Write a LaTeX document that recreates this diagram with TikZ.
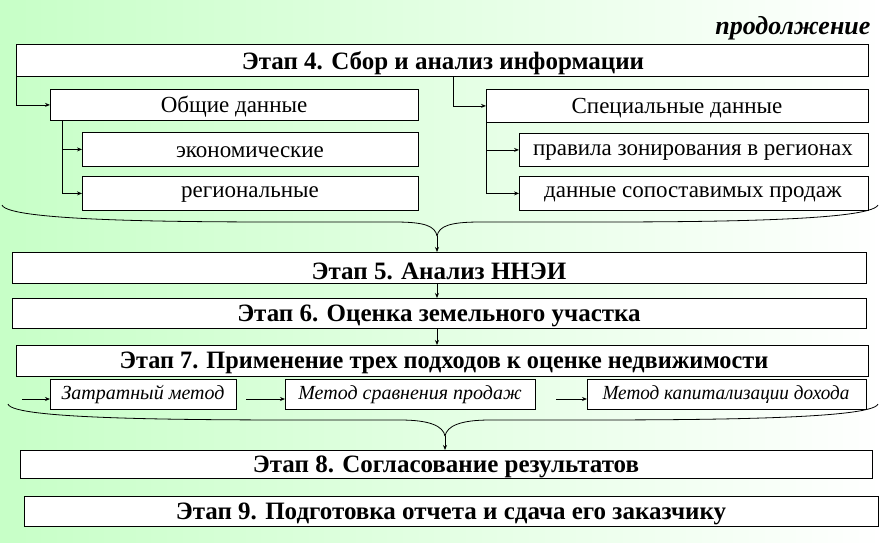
\documentclass[tikz,border=0pt]{standalone}
\usepackage{fontspec}
\setmainfont{Liberation Serif}
\usetikzlibrary{arrows.meta}
\begin{document}
\begin{tikzpicture}[x=1pt,y=-1pt,
 box/.style={draw,thick,fill=white,inner sep=0pt},
 big/.style={font=\bfseries\fontsize{25}{28}\selectfont,yshift=-2pt},
 reg/.style={font=\fontsize{23}{26}\selectfont,yshift=-2pt},
 met/.style={font=\itshape\fontsize{20}{22}\selectfont,yshift=-1pt},
 arr/.style={thick,-{Stealth[length=5pt,width=4pt]}},
 ln/.style={thick}]
\shade[left color=green!22!white,right color=white] (0,0) rectangle (882,542);
\useasboundingbox (0,0) rectangle (882,542);
\newcommand{\bx}[6]{\node[box,#6,minimum width=#3-#1,minimum height=#4-#2,anchor=north west] (#5) at (#1,#2) {};}
\node[font=\bfseries\itshape\fontsize{26}{28}\selectfont,anchor=east] (cont) at (874,28) {продолжение};
\bx{16}{44}{868}{76}{s4}{}
\node[big] at (443,61) {Этап 4. Сбор и анализ информации};
\bx{50}{89}{418}{120}{gen}{}
\node[reg] at (234,105) {Общие данные};
\bx{486}{89}{868}{122}{spec}{}
\node[reg] at (677,106) {Специальные данные};
\bx{82}{132}{418}{166}{eco}{}
\node[reg] at (250,150) {экономические};
\bx{519}{133}{868}{166}{zon}{}
\node[reg] at (693,151) {правила зонирования в регионах};
\bx{82}{176}{418}{210}{reg}{}
\node[reg] at (250,193) {региональные};
\bx{519}{176}{868}{210}{sales}{}
\node[reg] at (693,193) {данные сопоставимых продаж};
\draw[arr] (16,76) |- (gen.west);
\draw[arr] (453,76) |- (spec.west);
\draw[arr] (62,120) |- (eco.west);
\draw[arr] (62,120) |- (reg.west);
\draw[arr] (486,122) |- (zon.west);
\draw[arr] (486,122) |- (sales.west);
\bx{12}{252}{866}{283}{s5}{}
\node[big] at (439,269) {Этап 5. Анализ ННЭИ};
\coordinate (b1) at (437,236);
\draw[ln] (2,205) .. controls (8,222) and (200,222) .. (300,222) -- (395,222) .. controls (425,222) and (435,226) .. (b1);
\draw[ln] (878,205) .. controls (870,222) and (680,222) .. (580,222) -- (480,222) .. controls (450,222) and (439,226) .. (b1);
\draw[arr] (b1) -- (s5.north -| b1);
\bx{12}{298}{866}{328}{s6}{}
\node[big] at (439,314) {Этап 6. Оценка земельного участка};
\draw[arr] (s5.south -| b1) -- (s6.north -| b1);
\bx{16}{345}{868}{376}{s7}{}
\node[big,xscale=0.97] at (444,361) {Этап 7. Применение трех подходов к оценке недвижимости};
\draw[arr] (s6.south -| b1) -- (s7.north -| b1);
\bx{50}{379}{236}{409}{m1}{}
\node[met] at (143,394) {Затратный метод};
\bx{285}{379}{535}{409}{m2}{}
\node[met] at (410,394) {Метод сравнения продаж};
\bx{587}{379}{866}{409}{m3}{}
\node[met,xscale=0.96] at (726,394) {Метод капитализации дохода};
\coordinate (a1) at (22,399);\coordinate (a2) at (246,399);\coordinate (a3) at (556,399);
\draw[arr] (a1) -- (m1.west|-a1);
\draw[arr] (a2) -- (m2.west|-a2);
\draw[arr] (a3) -- (m3.west|-a3);
\coordinate (b2) at (445,436);
\bx{20}{450}{872}{478}{s8}{}
\node[big] at (446,465) {Этап 8. Согласование результатов};
\draw[ln] (8,404) .. controls (12,420) and (200,420) .. (330,420) -- (400,420) .. controls (430,420) and (443,426) .. (b2);
\draw[ln] (878,404) .. controls (872,420) and (680,420) .. (560,420) -- (490,420) .. controls (460,420) and (447,426) .. (b2);
\draw[arr] (b2) -- (s8.north -| b2);
\bx{24}{496}{878}{526}{s9}{}
\node[big] at (451,512) {Этап 9. Подготовка отчета и сдача его заказчику};
\end{tikzpicture}
\end{document}
